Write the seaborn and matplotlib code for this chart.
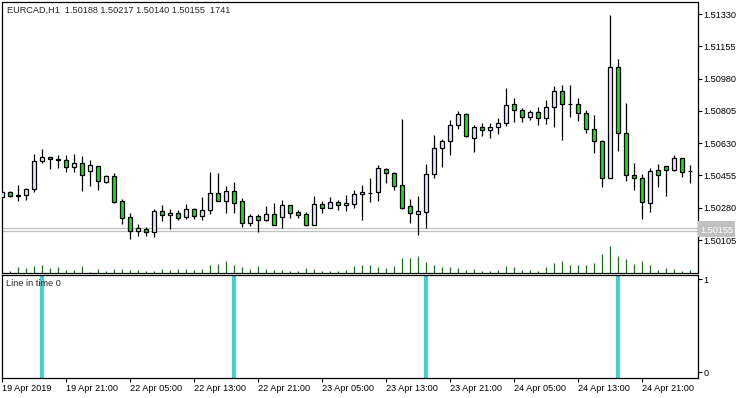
import matplotlib
matplotlib.use("Agg")
import matplotlib.pyplot as plt
import matplotlib.transforms as mtransforms
import numpy as np
import seaborn as sns

# EURCAD H1 candles
opens = [1.50340, 1.50365, 1.50347, 1.50347, 1.50380, 1.50532, 1.50553, 1.50543, 1.50537, 1.50499,
         1.50521, 1.50477, 1.50505, 1.50421, 1.50450, 1.50315, 1.50228, 1.50152, 1.50163, 1.50147,
         1.50261, 1.50239, 1.50250, 1.50228, 1.50272, 1.50237, 1.50266, 1.50358, 1.50318, 1.50369,
         1.50315, 1.50199, 1.50234, 1.50215, 1.50244, 1.50231, 1.50293, 1.50257, 1.50246, 1.50188,
         1.50299, 1.50280, 1.50309, 1.50293, 1.50299, 1.50353, 1.50361, 1.50364, 1.50488, 1.50467,
         1.50402, 1.50288, 1.50244, 1.50259, 1.50461, 1.50605, 1.50640, 1.50727, 1.50786, 1.50660,
         1.50716, 1.50700, 1.50716, 1.50738, 1.50841, 1.50808, 1.50770, 1.50797, 1.50765, 1.50824,
         1.50911, 1.50841, 1.50841, 1.50792, 1.50705, 1.50640, 1.50440, 1.51041, 1.50683, 1.50456,
         1.50440, 1.50304, 1.50483, 1.50505, 1.50486, 1.50548, 1.50479]
highs = [1.50371, 1.50371, 1.50403, 1.50387, 1.50571, 1.50597, 1.50557, 1.50566, 1.50566, 1.50571,
         1.50560, 1.50539, 1.50507, 1.50456, 1.50467, 1.50326, 1.50250, 1.50190, 1.50174, 1.50273,
         1.50295, 1.50273, 1.50268, 1.50300, 1.50277, 1.50338, 1.50474, 1.50468, 1.50398, 1.50419,
         1.50331, 1.50244, 1.50244, 1.50288, 1.50306, 1.50320, 1.50293, 1.50268, 1.50257, 1.50344,
         1.50315, 1.50337, 1.50320, 1.50347, 1.50376, 1.50403, 1.50441, 1.50512, 1.50494, 1.50472,
         1.50761, 1.50326, 1.50344, 1.50517, 1.50673, 1.50653, 1.50756, 1.50803, 1.50791, 1.50727,
         1.50738, 1.50738, 1.50765, 1.50927, 1.50873, 1.50819, 1.50808, 1.50824, 1.50864, 1.50938,
         1.50944, 1.50944, 1.50873, 1.50808, 1.50781, 1.50645, 1.51325, 1.51086, 1.50848, 1.50521,
         1.50461, 1.50494, 1.50515, 1.50505, 1.50564, 1.50548, 1.50510]
lows = [1.50335, 1.50340, 1.50318, 1.50322, 1.50367, 1.50521, 1.50492, 1.50497, 1.50474, 1.50474,
        1.50372, 1.50399, 1.50378, 1.50416, 1.50307, 1.50192, 1.50112, 1.50127, 1.50127, 1.50120,
        1.50210, 1.50166, 1.50213, 1.50221, 1.50221, 1.50215, 1.50244, 1.50318, 1.50253, 1.50253,
        1.50177, 1.50183, 1.50150, 1.50210, 1.50188, 1.50172, 1.50226, 1.50226, 1.50183, 1.50188,
        1.50253, 1.50280, 1.50269, 1.50264, 1.50280, 1.50213, 1.50311, 1.50318, 1.50416, 1.50378,
        1.50275, 1.50199, 1.50134, 1.50172, 1.50443, 1.50502, 1.50567, 1.50708, 1.50664, 1.50584,
        1.50670, 1.50660, 1.50681, 1.50721, 1.50743, 1.50743, 1.50757, 1.50730, 1.50735, 1.50719,
        1.50649, 1.50773, 1.50752, 1.50687, 1.50578, 1.50394, 1.50440, 1.50589, 1.50427, 1.50378,
        1.50221, 1.50259, 1.50394, 1.50345, 1.50477, 1.50448, 1.50416]
closes = [1.50365, 1.50345, 1.50346, 1.50380, 1.50532, 1.50553, 1.50543, 1.50539, 1.50499, 1.50521,
          1.50456, 1.50510, 1.50423, 1.50450, 1.50313, 1.50223, 1.50152, 1.50170, 1.50147, 1.50262,
          1.50239, 1.50250, 1.50226, 1.50272, 1.50237, 1.50266, 1.50358, 1.50318, 1.50369, 1.50307,
          1.50199, 1.50234, 1.50215, 1.50244, 1.50188, 1.50293, 1.50253, 1.50242, 1.50188, 1.50299,
          1.50280, 1.50309, 1.50293, 1.50304, 1.50353, 1.50364, 1.50362, 1.50494, 1.50467, 1.50399,
          1.50280, 1.50253, 1.50261, 1.50461, 1.50604, 1.50640, 1.50727, 1.50786, 1.50667, 1.50716,
          1.50700, 1.50716, 1.50738, 1.50835, 1.50808, 1.50770, 1.50797, 1.50765, 1.50824, 1.50911,
          1.50841, 1.50841, 1.50792, 1.50705, 1.50640, 1.50440, 1.51041, 1.50683, 1.50456, 1.50440,
          1.50309, 1.50477, 1.50456, 1.50483, 1.50548, 1.50475, 1.50479]
# tick volumes
volumes = [150, 170, 570, 470, 670, 770, 470, 570, 270, 270,
           670, 70, 370, 170, 370, 370, 270, 270, 170, 170,
           370, 270, 320, 370, 270, 370, 770, 870, 1170, 770,
           570, 370, 670, 370, 270, 270, 170, 170, 470, 370,
           170, 170, 170, 270, 630, 800, 800, 600, 500, 700,
           1500, 1500, 1700, 1100, 800, 600, 600, 500, 300, 400,
           200, 200, 300, 700, 600, 300, 300, 200, 600, 1000,
           1200, 800, 800, 800, 1000, 1900, 2700, 1700, 1400, 900,
           1200, 800, 300, 500, 400, 200, 300]

# indicator "Line in time 0": bars where the buffer is 1
signal_bars = [5, 29, 53, 77]

price_ticks = [1.50105, 1.50280, 1.50455, 1.50630, 1.50805, 1.50980, 1.51155, 1.51330]
time_ticks = [0, 8, 16, 24, 32, 40, 48, 56, 64, 72, 80]
time_labels = ["19 Apr 2019", "19 Apr 21:00", "22 Apr 05:00", "22 Apr 13:00", "22 Apr 21:00",
               "23 Apr 05:00", "23 Apr 13:00", "23 Apr 21:00", "24 Apr 05:00", "24 Apr 13:00",
               "24 Apr 21:00"]
ask_price = 1.50172
bid_price = 1.50155
title = "EURCAD,H1  1.50188 1.50217 1.50140 1.50155  1741"

sns.set_theme(style="white")
plt.rcParams['font.family'] = ['Liberation Sans', 'DejaVu Sans']

W, H = 750, 398
fig = plt.figure(figsize=(7.5, 3.98), dpi=100)
ax = fig.add_axes([1.5 / W, (H - 272.5) / H, 696 / W, 271 / H])
ax2 = fig.add_axes([1.5 / W, (H - 377.5) / H, 696 / W, 102.5 / H])

o = np.array(opens)
c = np.array(closes)
x = np.arange(len(o))
body_low = np.minimum(o, c)
body_h = np.maximum(np.abs(c - o), 0.000004)
colors = ["#E6E6FA" if cc > oo else "#32CD32" for oo, cc in zip(o, c)]

# volumes at the bottom of the price window
vol_scale = 27100
ax.vlines(x, 0, np.array(volumes) / vol_scale, transform=ax.get_xaxis_transform(),
          color="#008000", lw=0.9, zorder=1)

ax.axhline(ask_price, color="#C0C0C0", lw=0.9, zorder=1)
ax.axhline(bid_price, color="#C0C0C0", lw=0.9, zorder=1)

# candles
ax.vlines(x, lows, highs, color="black", lw=0.9, zorder=2)
ax.bar(x, body_h, bottom=body_low, width=0.5, color=colors, edgecolor="black",
       linewidth=0.9, zorder=3)

ax.set_xlim(-0.06, 86.875)
ax.set_ylim(1.49929, 1.51398)
ax.set_xticks([])
ax.yaxis.tick_right()
ax.set_yticks(price_ticks)
ax.set_yticklabels([f"{p:.5f}" for p in price_ticks])
ax.tick_params(axis="y", direction="out", length=3, width=0.8, pad=1.5,
               labelsize=6.6, colors="black", right=True, left=False)

# ask label sits behind the bid label, only its top edge shows
trans = mtransforms.blended_transform_factory(ax.transAxes, ax.transData)
ask_txt = ax.text(1.004, ask_price, f"{ask_price:.5f}", transform=trans, ha="left",
                  va="center", fontsize=6.6, color="white",
                  bbox=dict(boxstyle="square,pad=0.2", fc="#C0C0C0", ec="none"))
ask_txt.set_clip_on(True)
ask_txt.set_clip_box(mtransforms.Bbox([[698, H - 226], [748, H - 218]]))
ax.text(1.004, bid_price, f"{bid_price:.5f}", transform=trans, ha="left", va="center",
        fontsize=6.6, color="white", clip_on=False,
        bbox=dict(boxstyle="square,pad=0.2", fc="#C0C0C0", ec="none"))

# indicator window
for b in signal_bars:
    ax2.axvline(b, color="#48D1CC", lw=2.9)
ax2.set_xlim(-0.06, 86.875)
ax2.set_ylim(-0.057, 1.043)
ax2.yaxis.tick_right()
ax2.set_yticks([0, 1])
ax2.set_yticklabels(["0", "1"])
ax2.set_xticks(time_ticks)
ax2.set_xticklabels(time_labels, ha="left")
ax2.tick_params(axis="y", direction="out", length=3, width=0.8, pad=1.5,
                labelsize=6.6, colors="black", right=True, left=False)
ax2.tick_params(axis="x", direction="out", length=3, width=0.8, pad=1.5,
                labelsize=6.6, colors="black", bottom=True)

for a in (ax, ax2):
    for s in a.spines.values():
        s.set_color("black")
        s.set_linewidth(0.9)

fig.text(7 / W, 1 - 13.3 / H, title, fontsize=6.6, va="baseline", ha="left")
fig.text(6 / W, 1 - 286.5 / H, "Line in time 0", fontsize=6.6, va="baseline", ha="left")

fig.savefig("out.png", dpi=100)
